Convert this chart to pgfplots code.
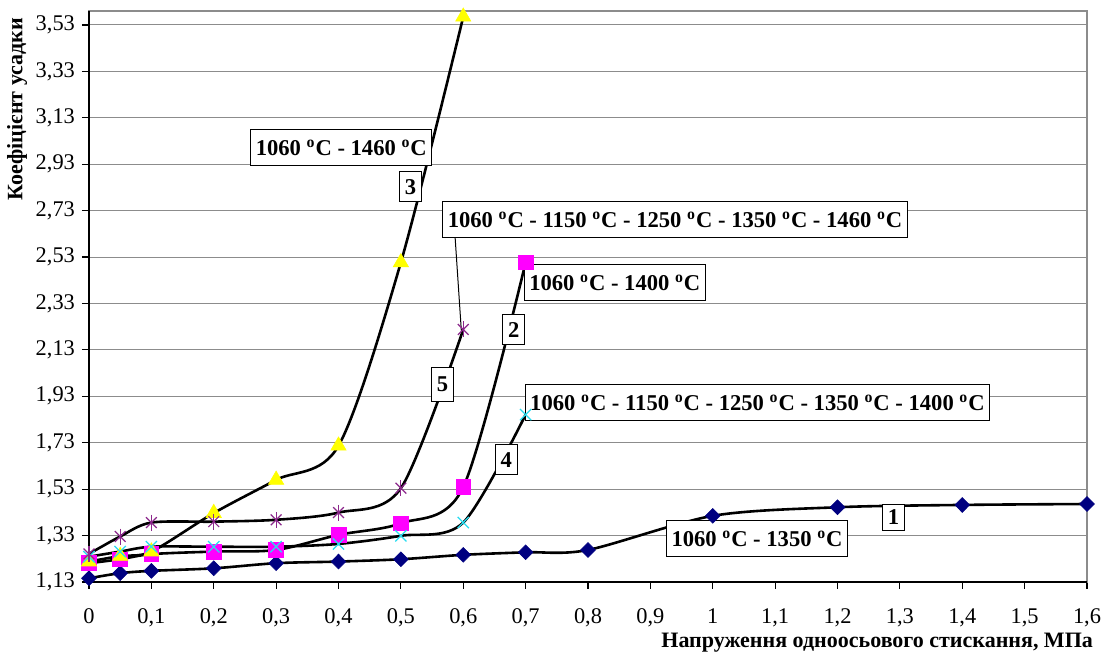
\documentclass[border=0pt]{standalone}
\usepackage{fontspec}
\setmainfont{Liberation Serif}
\usepackage{pgfplots}
\pgfplotsset{compat=1.18}
\usepackage{pgfplotstable}

\definecolor{sone}{RGB}{0,0,128}
\definecolor{stwo}{RGB}{255,0,255}
\definecolor{sthree}{RGB}{255,255,0}
\definecolor{sfour}{RGB}{40,220,240}
\definecolor{sfive}{RGB}{140,40,140}
\definecolor{gridgray}{RGB}{140,140,140}

\pgfplotstableread{
x y
0 1.146
0.05 1.168
0.1 1.178
0.2 1.189
0.3 1.211
0.4 1.218
0.5 1.228
0.6 1.247
0.7 1.258
0.8 1.268
1.0 1.415
1.2 1.452
1.4 1.462
1.6 1.466
}\serone
\pgfplotstableread{
x y
0 1.211
0.05 1.228
0.1 1.250
0.2 1.261
0.3 1.268
0.4 1.333
0.5 1.383
0.6 1.539
0.7 2.507
}\sertwo
\pgfplotstableread{
x y
0 1.218
0.05 1.242
0.1 1.261
0.2 1.427
0.3 1.570
0.4 1.717
0.5 2.507
0.6 3.565
}\serthree
\pgfplotstableread{
x y
0 1.239
0.05 1.261
0.1 1.282
0.2 1.282
0.3 1.282
0.4 1.294
0.5 1.329
0.6 1.386
0.7 1.851
}\serfour
\pgfplotstableread{
x y
0 1.251
0.05 1.326
0.1 1.386
0.2 1.390
0.3 1.398
0.4 1.429
0.5 1.534
0.6 2.218
}\serfive

\newcommand{\dg}{\textsuperscript{o}C}

\begin{document}
\begin{tikzpicture}
\useasboundingbox (-44.5pt,-35.5pt) rectangle (508pt,291pt);
\begin{axis}[
  at={(0,0)}, anchor=south west,
  scale only axis, width=499pt, height=285.5pt,
  xmin=0, xmax=1.6, ymin=1.13, ymax=3.59,
  clip=false,
  xtick={0,0.1,0.2,0.3,0.4,0.5,0.6,0.7,0.8,0.9,1,1.1,1.2,1.3,1.4,1.5,1.6},
  ytick={1.13,1.33,1.53,1.73,1.93,2.13,2.33,2.53,2.73,2.93,3.13,3.33,3.53},
  /pgf/number format/assume math mode=true,
  xticklabel style={yshift=-6.5pt, /pgf/number format/.cd, fixed, precision=1, use comma},
  yticklabel style={/pgf/number format/.cd, fixed, fixed zerofill, precision=2, use comma},
  ticklabel style={font=\fontsize{11.2}{13}\selectfont},
  tick align=outside, tick pos=left,
  major tick length=3.5pt,
  tick style={black, line width=0.6pt},
  ymajorgrids, grid style={gridgray, line width=0.5pt},
  axis line style={gridgray, line width=0.6pt},
  xlabel={Напруження одноосьового стискання, МПа},
  ylabel={Коефіцієнт усадки},
  label style={font=\bfseries\fontsize{11}{13}\selectfont},
  xlabel style={at={(axis description cs:1.013,-0.107)}, anchor=east},
  ylabel style={at={(axis description cs:-0.072,0.828)}, anchor=center, rotate=0},
  every axis plot/.append style={line width=1.3pt},
]
% black lines along the left and bottom
\draw[black, line width=0.9pt] (rel axis cs:0,1) -- (rel axis cs:0,0) -- (rel axis cs:1,0);

% smoothed curves
\addplot[black, smooth, no marks] table[x=x,y=y] {\serone};
\addplot[black, smooth, no marks] table[x=x,y=y] {\sertwo};
\addplot[black, smooth, no marks] table[x=x,y=y] {\serthree};
\addplot[black, smooth, no marks] table[x=x,y=y] {\serfour};
\addplot[black, smooth, no marks] table[x=x,y=y] {\serfive};

% markers
\addplot[only marks, mark=diamond*, mark size=3.7pt, mark options={sone, fill=sone, xscale=1.33, line width=0.3pt}] table[x=x,y=y] {\serone};
\addplot[only marks, mark=square*, mark size=3.7pt, mark options={stwo, fill=stwo, line width=0.3pt}] table[x=x,y=y] {\sertwo};
\addplot[only marks, mark=triangle*, mark size=4.4pt, mark options={sthree, fill=sthree, line width=0.3pt}] table[x=x,y=y] {\serthree};
\addplot[only marks, mark=x, mark size=4pt, mark options={sfour, line width=0.6pt}] table[x=x,y=y] {\serfour};
\addplot[only marks, mark=x, mark size=3.8pt, mark options={sfive, line width=0.6pt}] table[x=x,y=y] {\serfive};
\addplot[only marks, mark=|, mark size=4pt, mark options={sfive, line width=0.6pt}] table[x=x,y=y] {\serfive};

% annotations
\tikzset{lbl/.style={draw=black, line width=0.5pt, fill=white, font=\bfseries\fontsize{11.3}{13}\selectfont, inner xsep=2.5pt, inner ysep=0pt, minimum height=18pt},
         num/.style={draw=black, line width=0.5pt, fill=white, font=\bfseries\fontsize{11.3}{13}\selectfont, inner sep=1.5pt, minimum width=11pt, minimum height=15pt}}
\draw[black, line width=0.5pt] (axis cs:0.587,2.613) -- (axis cs:0.597,2.21);
\node[lbl] at (axis cs:0.4045,3.002) {1060 \dg{} - 1460 \dg};
\node[num] at (axis cs:0.5154,2.833) {3};
\node[lbl] at (axis cs:0.9395,2.692) {1060 \dg{} - 1150 \dg{} - 1250 \dg{} - 1350 \dg{} - 1460 \dg};
\node[lbl] at (axis cs:0.843,2.420) {1060 \dg{} - 1400 \dg};
\node[num] at (axis cs:0.681,2.217) {2};
\node[num, minimum height=17pt] at (axis cs:0.5667,1.980) {5};
\node[lbl] at (axis cs:1.0717,1.9035) {1060 \dg{} - 1150 \dg{} - 1250 \dg{} - 1350 \dg{} - 1400 \dg};
\node[num] at (axis cs:0.669,1.656) {4};
\node[num, minimum height=13pt] at (axis cs:1.290,1.410) {1};
\node[lbl] at (axis cs:1.071,1.317) {1060 \dg{} - 1350 \dg};
\end{axis}
\end{tikzpicture}
\end{document}
